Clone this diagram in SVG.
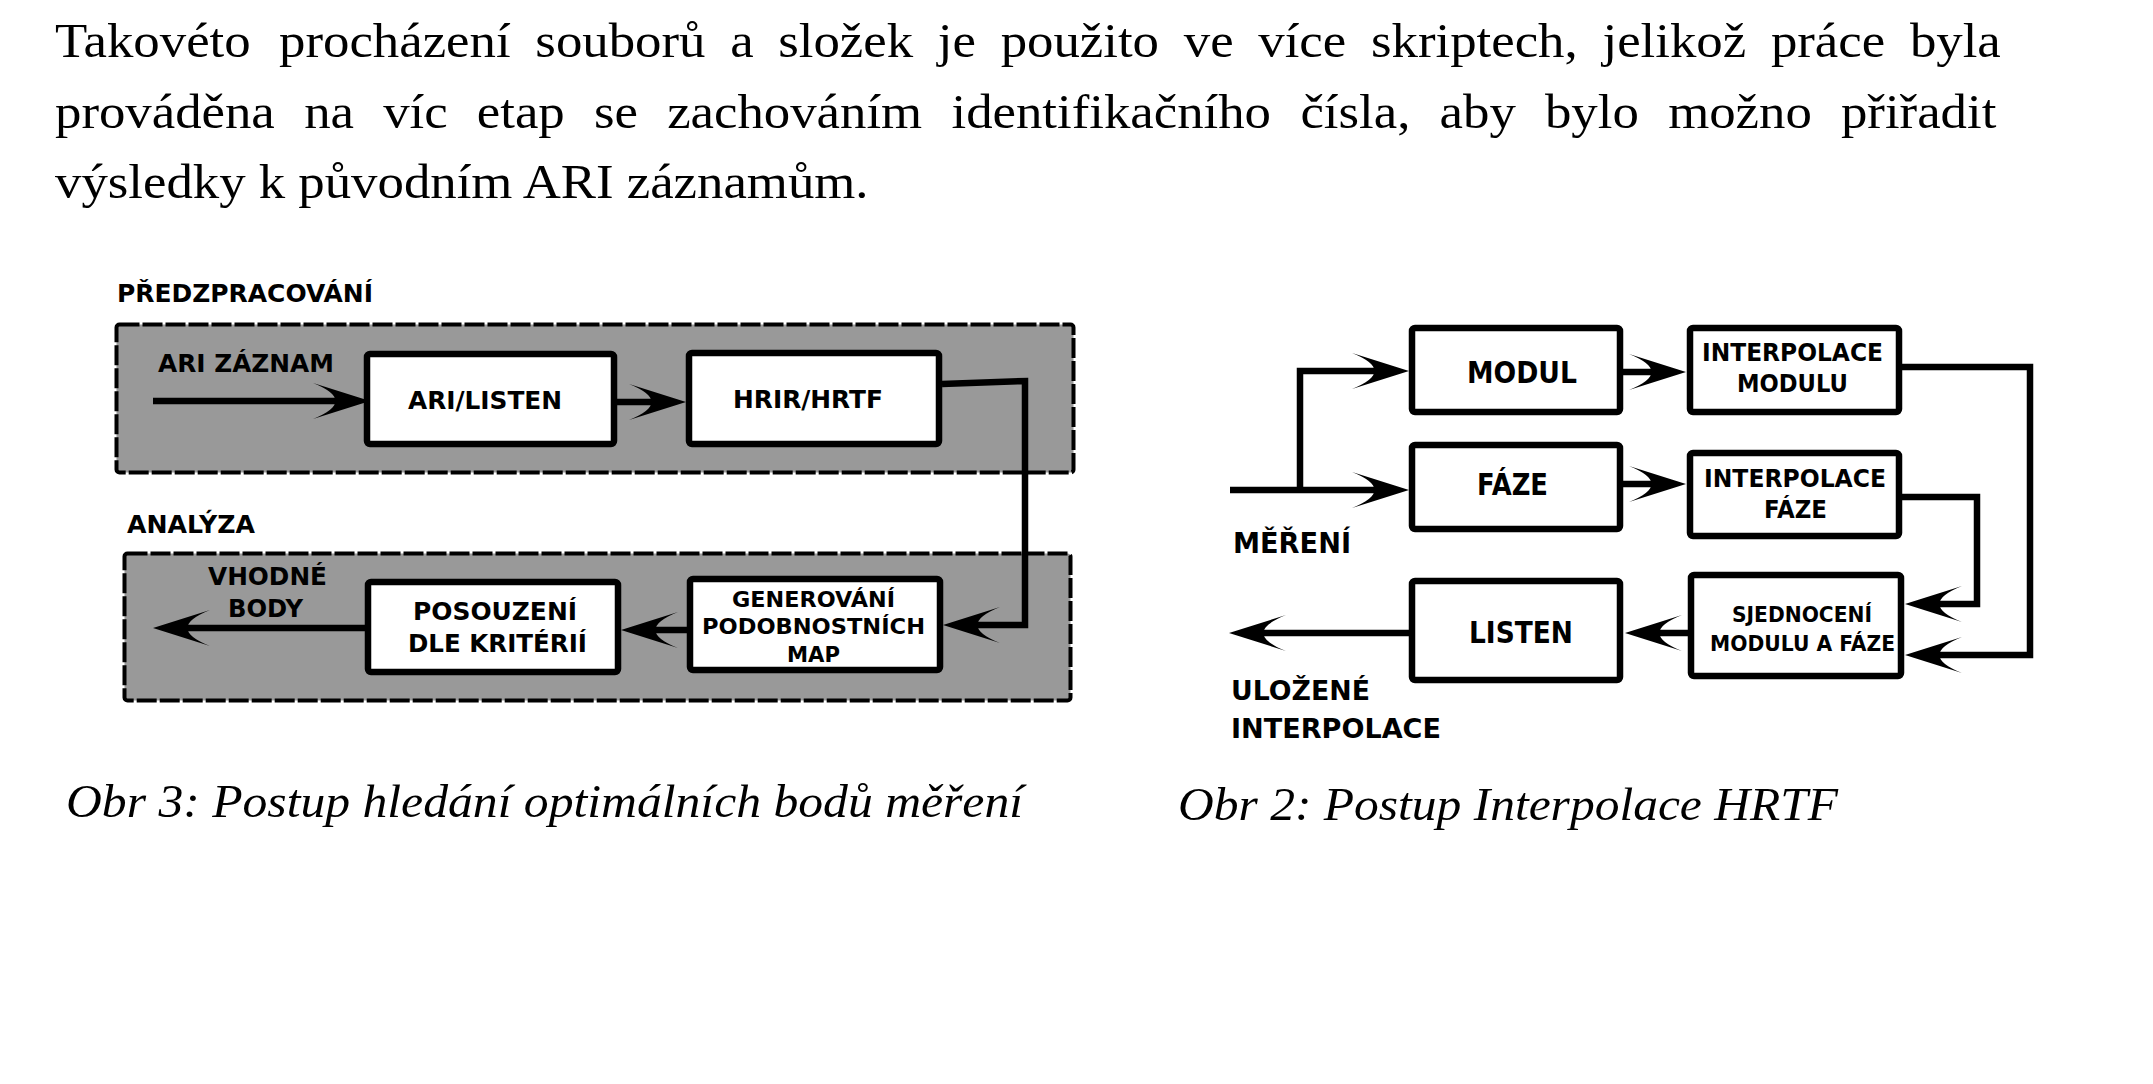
<svg xmlns="http://www.w3.org/2000/svg" width="2153" height="1084" viewBox="0 0 2153 1084">
<defs>
<style>
.para{font-family:"Liberation Serif","Times New Roman",serif;font-size:48px;fill:#000}
.cap{font-family:"Liberation Serif","Times New Roman",serif;font-style:italic;font-size:47px;fill:#000}
.lbl{font-family:"DejaVu Sans","Liberation Sans",sans-serif;font-weight:bold;fill:#000}
.box{fill:#fff;stroke:#000;stroke-width:6.5;stroke-linejoin:round}
.grp{fill:#999999;stroke:#000;stroke-width:4;stroke-dasharray:20 3}
.ln{fill:none;stroke:#000;stroke-width:6.5;stroke-linejoin:miter}
</style>
<marker id="ah" markerUnits="userSpaceOnUse" viewBox="-40 -25 75 50" markerWidth="75" markerHeight="50" refX="0" refY="0" orient="auto" overflow="visible">
<path d="M27,0 L-30,-18 C0,-6 0,6 -30,18 Z" fill="#000"/>
</marker>
</defs>
<rect x="0" y="0" width="2153" height="1084" fill="#fff"/>

<g id="paragraph" transform="scale(1.1 1)">
<text class="para" y="57"><tspan x="50">Takovéto </tspan><tspan x="253.7">procházení </tspan><tspan x="486.7">souborů </tspan><tspan x="663.8">a </tspan><tspan x="707.5">složek </tspan><tspan x="852.6">je </tspan><tspan x="909.7">použito </tspan><tspan x="1076.2">ve </tspan><tspan x="1143.9">více </tspan><tspan x="1246.4">skriptech, </tspan><tspan x="1456.8">jelikož </tspan><tspan x="1609.9">práce </tspan><tspan x="1736.3">byla</tspan></text>
<text class="para" y="128"><tspan x="50">prováděna </tspan><tspan x="276.5">na </tspan><tspan x="348.3">víc </tspan><tspan x="433.5">etap </tspan><tspan x="540">se </tspan><tspan x="606.5">zachováním </tspan><tspan x="865">identifikačního </tspan><tspan x="1182.2">čísla, </tspan><tspan x="1308.7">aby </tspan><tspan x="1404.5">bylo </tspan><tspan x="1516.5">možno </tspan><tspan x="1673.6">přiřadit</tspan></text>
<text class="para" x="50" y="198">výsledky k původním ARI záznamům.</text>
</g>

<!-- Left figure -->
<g id="grp-predzpracovani">
<rect class="grp" x="116.5" y="324.5" width="957" height="148" rx="3"/>
<text class="lbl" x="117" y="302" font-size="24" textLength="256" lengthAdjust="spacingAndGlyphs">PŘEDZPRACOVÁNÍ</text>
</g>
<g id="grp-analyza">
<rect class="grp" x="124.5" y="553.5" width="946" height="147" rx="3"/>
<text class="lbl" x="127" y="533" font-size="24" textLength="128" lengthAdjust="spacingAndGlyphs">ANALÝZA</text>
</g>

<g id="left-connectors">
<path class="ln" d="M153,401 H343" marker-end="url(#ah)"/>
<path class="ln" d="M617,402 H659" marker-end="url(#ah)"/>
<path class="ln" d="M942,384 L1025,381 V625 H970" marker-end="url(#ah)"/>
<path class="ln" d="M687,630 H648" marker-end="url(#ah)"/>
<path class="ln" d="M368,628 H180" marker-end="url(#ah)"/>
</g>

<g id="lbl-ari-zaznam">
<text class="lbl" x="158" y="372" font-size="24" textLength="176" lengthAdjust="spacingAndGlyphs">ARI ZÁZNAM</text>
</g>
<g id="lbl-vhodne-body">
<text class="lbl" x="208" y="585" font-size="24" textLength="119" lengthAdjust="spacingAndGlyphs">VHODNÉ</text>
<text class="lbl" x="228" y="617" font-size="24" textLength="75" lengthAdjust="spacingAndGlyphs">BODY</text>
</g>

<g id="node-ari-listen">
<rect class="box" x="367" y="354" width="247" height="90" rx="3"/>
<text class="lbl" x="408" y="409" font-size="24" textLength="154" lengthAdjust="spacingAndGlyphs">ARI/LISTEN</text>
</g>
<g id="node-hrir-hrtf">
<rect class="box" x="689" y="353" width="250" height="91" rx="3"/>
<text class="lbl" x="733" y="408" font-size="24" textLength="150" lengthAdjust="spacingAndGlyphs">HRIR/HRTF</text>
</g>
<g id="node-posouzeni">
<rect class="box" x="368" y="582" width="250" height="90" rx="3"/>
<text class="lbl" x="413" y="620" font-size="24" textLength="164" lengthAdjust="spacingAndGlyphs">POSOUZENÍ</text>
<text class="lbl" x="408" y="652" font-size="24" textLength="179" lengthAdjust="spacingAndGlyphs">DLE KRITÉRIÍ</text>
</g>
<g id="node-generovani">
<rect class="box" x="690" y="579" width="250" height="91" rx="3"/>
<text class="lbl" x="732" y="607" font-size="22" textLength="163" lengthAdjust="spacingAndGlyphs">GENEROVÁNÍ</text>
<text class="lbl" x="702" y="634" font-size="22" textLength="223" lengthAdjust="spacingAndGlyphs">PODOBNOSTNÍCH</text>
<text class="lbl" x="787" y="662" font-size="22" textLength="53" lengthAdjust="spacingAndGlyphs">MAP</text>
</g>

<!-- Right figure -->
<g id="right-connectors">
<path class="ln" d="M1230,490 H1382" stroke-width="8" marker-end="url(#ah)"/>
<path class="ln" d="M1300,493 V371 H1382" marker-end="url(#ah)"/>
<path class="ln" d="M1620,372 H1659" marker-end="url(#ah)"/>
<path class="ln" d="M1620,484 H1659" marker-end="url(#ah)"/>
<path class="ln" d="M1900,367 H2030 V655 H1932" marker-end="url(#ah)"/>
<path class="ln" d="M1900,497 H1977 V604 H1932" marker-end="url(#ah)"/>
<path class="ln" d="M1691,633 H1652" marker-end="url(#ah)"/>
<path class="ln" d="M1412,633 H1256" marker-end="url(#ah)"/>
</g>

<g id="lbl-mereni">
<text class="lbl" x="1233" y="553" font-size="28" textLength="118" lengthAdjust="spacingAndGlyphs">MĚŘENÍ</text>
</g>
<g id="lbl-ulozene">
<text class="lbl" x="1231" y="700" font-size="27" textLength="139" lengthAdjust="spacingAndGlyphs">ULOŽENÉ</text>
<text class="lbl" x="1231" y="738" font-size="27" textLength="210" lengthAdjust="spacingAndGlyphs">INTERPOLACE</text>
</g>

<g id="node-modul">
<rect class="box" x="1412" y="328" width="208" height="84" rx="3"/>
<text class="lbl" x="1467" y="383" font-size="30" textLength="110" lengthAdjust="spacingAndGlyphs">MODUL</text>
</g>
<g id="node-faze">
<rect class="box" x="1412" y="445" width="208" height="84" rx="3"/>
<text class="lbl" x="1477" y="495" font-size="30" textLength="71" lengthAdjust="spacingAndGlyphs">FÁZE</text>
</g>
<g id="node-listen">
<rect class="box" x="1412" y="581" width="208" height="99" rx="3"/>
<text class="lbl" x="1469" y="643" font-size="30" textLength="104" lengthAdjust="spacingAndGlyphs">LISTEN</text>
</g>
<g id="node-interpolace-modulu">
<rect class="box" x="1690" y="328" width="209" height="84" rx="3"/>
<text class="lbl" x="1702" y="361" font-size="24.5" textLength="181" lengthAdjust="spacingAndGlyphs">INTERPOLACE</text>
<text class="lbl" x="1737" y="392" font-size="24.5" textLength="111" lengthAdjust="spacingAndGlyphs">MODULU</text>
</g>
<g id="node-interpolace-faze">
<rect class="box" x="1690" y="453" width="209" height="83" rx="3"/>
<text class="lbl" x="1704" y="487" font-size="24.5" textLength="182" lengthAdjust="spacingAndGlyphs">INTERPOLACE</text>
<text class="lbl" x="1764" y="518" font-size="24.5" textLength="63" lengthAdjust="spacingAndGlyphs">FÁZE</text>
</g>
<g id="node-sjednoceni">
<rect class="box" x="1691" y="575" width="210" height="101" rx="3"/>
<text class="lbl" x="1732" y="622" font-size="21.5" textLength="140" lengthAdjust="spacingAndGlyphs">SJEDNOCENÍ</text>
<text class="lbl" x="1710" y="651" font-size="21.5" textLength="185" lengthAdjust="spacingAndGlyphs">MODULU A FÁZE</text>
</g>

<g id="captions">
<text class="cap" x="66" y="817" textLength="957" lengthAdjust="spacingAndGlyphs">Obr 3: Postup hledání optimálních bodů měření</text>
<text class="cap" x="1178" y="820" textLength="660" lengthAdjust="spacingAndGlyphs">Obr 2: Postup Interpolace HRTF</text>
</g>
</svg>
